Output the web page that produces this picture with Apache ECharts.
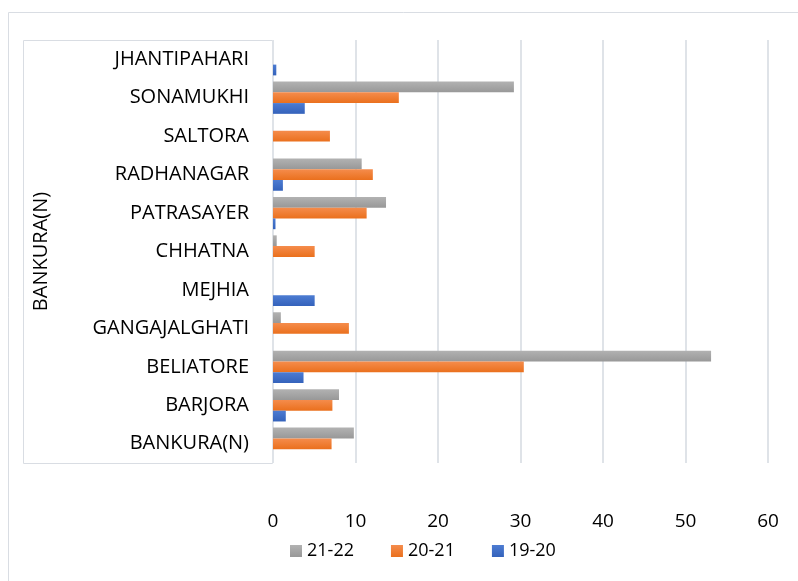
<!DOCTYPE html>
<html>
<head>
<meta charset="utf-8">
<script src="https://cdn.jsdelivr.net/npm/echarts@6/dist/echarts.min.js"></script>
<style>
  html, body { margin: 0; padding: 0; background: #fff; }
  #chart { width: 798px; height: 581px; }
</style>
</head>
<body>
<div id="chart"></div>
<script>
  // categories, bottom to top
  const blocks = ['BANKURA(N)', 'BARJORA', 'BELIATORE', 'GANGAJALGHATI', 'MEJHIA', 'CHHATNA',
    'PATRASAYER', 'RADHANAGAR', 'SALTORA', 'SONAMUKHI', 'JHANTIPAHARI']
  const y2122 = [9.8, 8.0, 53.1, 0.95, 0, 0.45, 13.7, 10.75, 0, 29.2, 0]
  const y2021 = [7.1, 7.2, 30.4, 9.2, 0, 5.05, 11.35, 12.1, 6.9, 15.25, 0]
  const y1920 = [0, 1.55, 3.7, 0, 5.05, 0, 0.3, 1.2, 0, 3.85, 0.4]
  const xTicks = [0, 10, 20, 30, 40, 50, 60]

  const font = '"Open Sans", sans-serif'
  function grad (a, b) {
    return new echarts.graphic.LinearGradient(0, 0, 0, 1, [
      {offset: 0, color: a}, {offset: 1, color: b}
    ])
  }

  const myChart = echarts.init(document.getElementById('chart'))
  const option = {
    animation: false,
    textStyle: {fontFamily: font},
    graphic: [
      {type: 'rect', shape: {x: 8.5, y: 12.5, width: 800, height: 580},
        style: {fill: 'none', stroke: '#d9dde3', lineWidth: 1}},
      {type: 'rect', shape: {x: 23.5, y: 40.5, width: 249, height: 423},
        style: {fill: 'none', stroke: '#d9dde3', lineWidth: 1}}
    ],
    legend: {
      data: ['21-22', '20-21', '19-20'],
      left: 285,
      top: 537,
      itemWidth: 12,
      itemHeight: 12,
      itemGap: 37,
      icon: 'rect',
      textStyle: {fontSize: 18, color: '#000', fontFamily: font}
    },
    grid: {left: 273, right: 30, top: 40, bottom: 118, containLabel: false},
    xAxis: {
      type: 'value',
      min: xTicks[0],
      max: xTicks[xTicks.length - 1],
      interval: 10,
      axisLine: {show: false},
      axisTick: {show: false},
      axisLabel: {fontSize: 19, color: '#000', margin: 49, fontFamily: font},
      splitLine: {lineStyle: {color: '#dfe3e8', width: 2}}
    },
    yAxis: {
      type: 'category',
      data: blocks,
      name: 'BANKURA(N)',
      nameLocation: 'middle',
      nameRotate: 90,
      nameGap: 222,
      nameTextStyle: {fontSize: 20, color: '#000', fontFamily: font},
      axisLine: {show: false},
      axisTick: {show: false},
      axisLabel: {fontSize: 20, color: '#000', margin: 24, fontFamily: font},
      splitLine: {show: false}
    },
    series: [
      {name: '21-22', type: 'bar', data: y2122, barGap: '0%', barCategoryGap: '16%',
        itemStyle: {color: grad('#b2b2b2', '#989898')}},
      {name: '20-21', type: 'bar', data: y2021, barGap: '0%', barCategoryGap: '16%',
        itemStyle: {color: grad('#f58c4c', '#ea701d')}},
      {name: '19-20', type: 'bar', data: y1920, barGap: '0%', barCategoryGap: '16%',
        itemStyle: {color: grad('#4d7cd2', '#3462bb')}}
    ]
  }
  myChart.setOption(option)
</script>
</body>
</html>
